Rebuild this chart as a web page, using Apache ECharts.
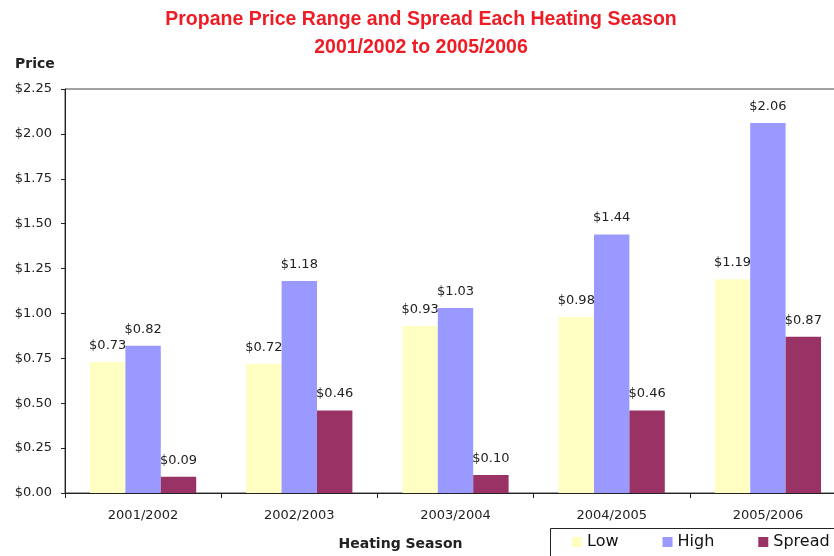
<!DOCTYPE html>
<html>
<head>
<meta charset="utf-8">
<script src="https://cdn.jsdelivr.net/npm/echarts@6/dist/echarts.min.js"></script>
<style>html,body{margin:0;padding:0;background:#fff;}#c{width:834px;height:556px;}</style>
</head>
<body>
<div id="c"></div>
<script>
const categories = ['2001/2002', '2002/2003', '2003/2004', '2004/2005', '2005/2006'];
const lowValues = [0.73, 0.72, 0.93, 0.98, 1.19];
const highValues = [0.82, 1.18, 1.03, 1.44, 2.06];
const spreadValues = [0.09, 0.46, 0.10, 0.46, 0.87];
const seriesNames = ['Low', 'High', 'Spread'];

const FONT = 'DejaVu Sans, sans-serif';
const chart = echarts.init(document.getElementById('c'), null, {renderer: 'canvas'});
const fmt = v => '$' + Number(v).toFixed(2);
const labelCfg = {
  show: true, position: 'top', distance: 10,
  formatter: p => fmt(p.value),
  color: '#222', fontFamily: FONT, fontSize: 13
};
chart.setOption({
  animation: false,
  backgroundColor: '#fff',
  title: {
    text: 'Propane Price Range and Spread Each Heating Season\n2001/2002 to 2005/2006',
    left: 416, top: 1, textAlign: 'center',
    textStyle: {color: '#ee1c25', fontSize: 19.5, fontWeight: 'bold', fontFamily: 'Liberation Sans, Arial, sans-serif', lineHeight: 28}
  },
  graphic: [
    {type: 'rect', silent: true, z: 0, shape: {x: 550.5, y: 528.5, width: 330, height: 40}, style: {fill: 'none', stroke: '#222', lineWidth: 1}}
  ],
  legend: {
    data: seriesNames,
    left: 550, top: 528, width: 400,
    orient: 'horizontal',
    itemWidth: 10, itemHeight: 10, itemGap: 44,
    padding: [6, 20, 14, 22],
    borderWidth: 0,
    icon: 'rect',
    textStyle: {fontSize: 16, color: '#111', fontFamily: FONT}
  },
  grid: {left: 65, top: 89, width: 781, height: 404, show: true, borderColor: '#444', borderWidth: 1, backgroundColor: 'transparent', outerBoundsMode: 'none', containLabel: false},
  xAxis: {
    type: 'category', data: categories,
    name: 'Heating Season', nameLocation: 'middle', nameGap: 44,
    nameTextStyle: {fontWeight: 'bold', fontSize: 14, color: '#222', fontFamily: FONT, padding: [0, 110, 0, 0]},
    axisLine: {lineStyle: {color: '#222'}},
    axisTick: {show: true, alignWithLabel: false, length: 5, lineStyle: {color: '#222'}},
    axisLabel: {color: '#222', fontSize: 13, margin: 16, fontFamily: FONT}
  },
  yAxis: {
    type: 'value', min: 0, max: 2.25, interval: 0.25,
    name: 'Price', nameLocation: 'end', nameGap: 18,
    nameTextStyle: {fontWeight: 'bold', fontSize: 14, color: '#222', align: 'left', padding: [0, 0, 0, -50], fontFamily: FONT},
    axisLine: {show: true, lineStyle: {color: '#222'}},
    axisTick: {show: true, length: 4, lineStyle: {color: '#222'}},
    splitLine: {show: false},
    axisLabel: {formatter: v => fmt(v), color: '#222', fontSize: 13, margin: 13, fontFamily: FONT}
  },
  series: [
    {name: 'Low', type: 'bar', data: lowValues, itemStyle: {color: '#FFFFC4'}, barGap: '0%', barCategoryGap: '32%', label: labelCfg},
    {name: 'High', type: 'bar', data: highValues, itemStyle: {color: '#9999FF'}, label: labelCfg},
    {name: 'Spread', type: 'bar', data: spreadValues, itemStyle: {color: '#993366'}, label: labelCfg}
  ]
});
</script>
</body>
</html>
